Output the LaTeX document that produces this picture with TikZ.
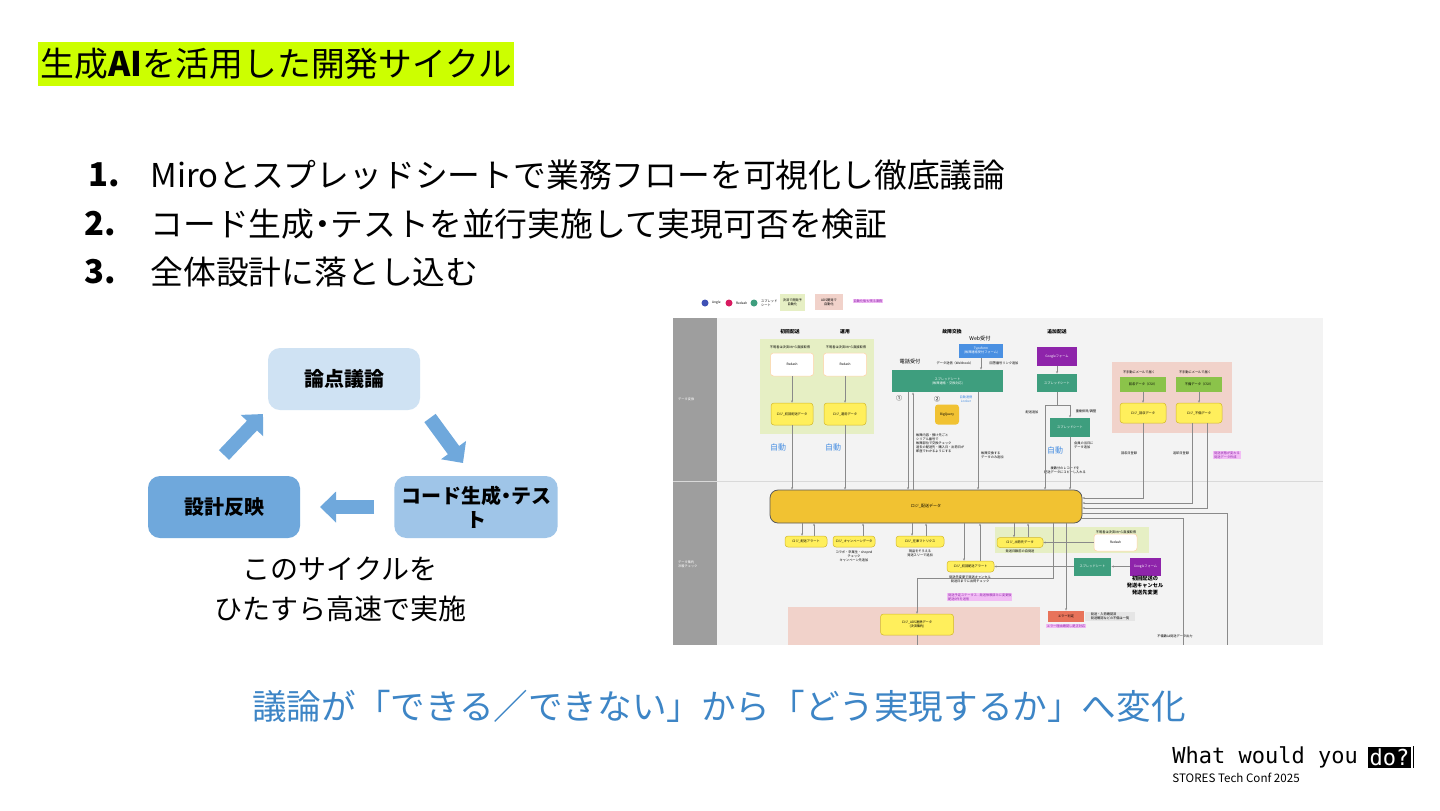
\documentclass[tikz,border=0pt]{standalone}
\usepackage{fontspec}
\setmainfont{Noto Sans CJK JP}
\newfontfamily\monofont{DejaVu Sans Mono}
\usetikzlibrary{arrows.meta,
                positioning}

\definecolor{titlelime}{HTML}{CCFF00}
\definecolor{cyclelight}{HTML}{CFE2F3}
\definecolor{cyclemid}{HTML}{9FC5E8}
\definecolor{cycledark}{HTML}{6FA8DC}
\definecolor{textblue}{HTML}{3D85C6}
\definecolor{boardgray}{HTML}{F3F3F3}
\definecolor{lanegray}{HTML}{9E9E9E}
\definecolor{limezone}{HTML}{E6EFC4}
\definecolor{pinkzone}{HTML}{F1D2CA}
\definecolor{logiyellow}{HTML}{FFEF5C}
\definecolor{logiedge}{HTML}{D2B72A}
\definecolor{mainorange}{HTML}{F1C232}
\definecolor{sheetgreen}{HTML}{3E9E7E}
\definecolor{formpurple}{HTML}{8E24AA}
\definecolor{typeblue}{HTML}{4A90E2}
\definecolor{csvgreen}{HTML}{8BC34A}
\definecolor{errorred}{HTML}{E8735A}
\definecolor{notepink}{HTML}{F2BDF5}
\definecolor{linkgray}{HTML}{8A8A8A}
\definecolor{dotblue}{HTML}{3F51B5}
\definecolor{dotred}{HTML}{D81B60}

\newcommand\minifont{\fontsize{1.6}{2}\selectfont}
\newcommand\headfont{\fontsize{2.4}{2.8}\selectfont\bfseries}
\newcommand\middot{\kern-.25em・\kern-.25em}

\begin{document}
\begin{tikzpicture}%
            [x = 0.5pt, y = -0.5pt,
             cycbox/.style = {rounded corners = 6pt, minimum width = 76pt, minimum height = 31pt,
                              align = center, font = \fontsize{10}{12}\selectfont\bfseries},
             cycarrow/.style = {line width = 7pt, cycledark, -{Triangle[length = 8pt, width = 15pt]}},
             listnum/.style = {anchor = west, inner sep = 0pt, font = \fontsize{16.4}{18}\selectfont\bfseries},
             listtext/.style = {anchor = west, inner sep = 0pt, font = \fontsize{16.4}{18}\selectfont},
             mini/.style = {inner sep = 0.4pt, align = center, font = \minifont},
             logi/.style = {mini, draw = logiedge, fill = logiyellow, line width = 0.25pt, rounded corners = 1.5pt},
             redash/.style = {mini, draw = orange!35, fill = white, line width = 0.25pt, rounded corners = 1.5pt},
             sheet/.style = {mini, fill = sheetgreen, text = white},
             form/.style = {mini, fill = formpurple, text = white},
             csv/.style = {mini, fill = csvgreen},
             note/.style = {mini, fill = notepink, text = formpurple},
             auto/.style = {inner sep = 0pt, text = typeblue, font = \fontsize{4}{4}\selectfont},
             link/.style = {draw = linkgray, line width = 0.25pt},
             linkarr/.style = {link, -{Stealth[length = 1.2pt, width = 1pt]}}]

            \useasboundingbox (0,0) rectangle (1440,810);
            \fill[white] (0,0) rectangle (1440,810);

            % title
            \fill[titlelime] (38,42) rectangle (514,86);
            \node [anchor = west, inner sep = 0pt, font = \fontsize{16.9}{20}\selectfont] (title) at (40,64)
                  {生成\textbf{AI}を活用した開発サイクル};

            % list
            \node [listnum] (n1) at (88,175) {1.};
            \node [listtext] (t1) at (150,175) {Miroとスプレッドシートで業務フローを可視化し徹底議論};
            \node [listnum] (n2) at (84,224) {2.};
            \node [listtext] (t2) at (150,224) {コード生成\middot テストを並行実施して実現可否を検証};
            \node [listnum] (n3) at (84,272) {3.};
            \node [listtext] (t3) at (150,272) {全体設計に落とし込む};

            % cycle
            \node [cycbox, fill = cyclelight] (issue) at (344,379) {論点議論};
            \node [cycbox, fill = cyclemid] (codegen) at (476,507) {コード生成\middot テス\\ト};
            \node [cycbox, fill = cycledark] (design) at (224,507) {設計反映};

            \coordinate (upA) at (224,455);
            \coordinate (upB) at (263,414);
            \coordinate (dnA) at (430,418);
            \coordinate (dnB) at (463,463);
            \coordinate (lfA) at (374,507);
            \coordinate (lfB) at (320,507);
            \draw [cycarrow] (upA) -- (upB);
            \draw [cycarrow] (dnA) -- (dnB);
            \draw [cycarrow] (lfA) -- (lfB);

            \node [align = center, font = \fontsize{14}{20}\selectfont] (cycnote) at (340,589)
                  {このサイクルを\\ひたすら高速で実施};

            % miro board
            \fill[boardgray] (673,318) rectangle (1323,645);
            \fill[lanegray] (673,318) rectangle (717,645);
            \draw[white!85!black, line width = 0.4pt] (673,481) -- (1323,481);
            \node [mini, text = white, anchor = west] (laneA) at (677,399) {データ変換};
            \node [mini, text = white, anchor = west, align = left] (laneB) at (677,564) {データ集約\\冷暖チェック};

            % legend
            \fill[dotblue] (705,303) circle (3.5);
            \node [mini, anchor = west] (lgdA) at (711,303) {Angle};
            \fill[dotred] (729,303) circle (3.5);
            \node [mini, anchor = west] (lgdB) at (735,303) {Redash};
            \fill[sheetgreen] (754,303) circle (3.5);
            \node [mini, anchor = west, align = left] (lgdC) at (760,303) {スプレッド\\シート};
            \node [mini, fill = limezone, minimum width = 12.5pt, minimum height = 8.5pt] (lgdD) at (792.5,302.5) {決済で開発予\\自動化};
            \node [mini, fill = pinkzone, minimum width = 14pt, minimum height = 8pt] (lgdE) at (829,302) {ADS開発で\\自動化};
            \node [note] (lgdF) at (868,301) {自動化後も残る業務};

            % zones
            \fill[limezone] (760,339) rectangle (874,434);
            \fill[pinkzone] (1112,362) rectangle (1232,433);
            \fill[limezone] (995,527) rectangle (1149,553);
            \fill[pinkzone] (788,607) rectangle (1040,645);

            \node [mini, font = \headfont] (hA) at (790,332) {初回配送};
            \node [mini, font = \headfont] (hB) at (845,332) {運用};
            \node [mini, font = \headfont] (hC) at (952,332) {故障交換};
            \node [mini, font = \headfont] (hD) at (1057,332) {追加配送};

            % upper lane
            \node [mini] (capA) at (790,347) {不明者は決済0から直接取得};
            \node [mini] (capB) at (846,347) {不明者は決済0から直接取得};
            \node [redash, minimum width = 21.5pt, minimum height = 11.5pt] (rdA) at (792,364.5) {Redash};
            \node [redash, minimum width = 21.5pt, minimum height = 11.5pt] (rdB) at (845,364.5) {Redash};
            \node [logi, minimum width = 21pt, minimum height = 11pt] (lgA) at (792,414) {ロジ\_初回配送データ};
            \node [logi, minimum width = 21pt, minimum height = 11pt] (lgB) at (845,414) {ロジ\_運用データ};
            \node [auto] (autoA) at (778,447) {自動};
            \node [auto] (autoB) at (833,447) {自動};

            \node [mini, font = \fontsize{2.6}{3}\selectfont] (webin) at (980,339) {Web受付};
            \node [mini, fill = typeblue, text = white, minimum width = 22pt, minimum height = 7pt] (tf) at (981,351)
                  {Typeform\\(故障連絡受付フォーム)};
            \node [mini, font = \fontsize{2.6}{3}\selectfont] (telin) at (910,362) {電話受付};
            \node [mini] (wh) at (955,363) {データ送信（Webhook）};
            \node [mini] (ln) at (1004,363) {回答番号リンク追加};
            \node [sheet, minimum width = 55.5pt, minimum height = 11pt] (ssA) at (947.5,381)
                  {スプレッドシート\\(故障連絡・交換対応)};
            \node [mini, font = \fontsize{3}{3}\selectfont] (c1) at (899,398) {①};
            \node [mini, font = \fontsize{3}{3}\selectfont] (c2) at (937,399) {②};
            \node [mini, text = typeblue] (bqnote) at (966,399) {自動連携\\Looker};
            \node [mini, fill = mainorange, rounded corners = 1.5pt, minimum width = 12pt, minimum height = 10pt] (bq) at (947,414.5) {BigQuery};
            \node [mini, align = left, anchor = north west] (bqtext) at (915,433)
                  {故障内容・預け先ごと\\シリアル番号で\\故障部位で交換チェック\\過去の配送先・購入日・出荷日が\\即座でわかるようにする};
            \node [mini, align = left, anchor = west] (swap) at (980,455) {故障交換する\\データのみ追加};

            \node [form, minimum width = 20pt, minimum height = 9.5pt] (gfA) at (1057,356.5) {Googleフォーム};
            \node [sheet, minimum width = 20pt, minimum height = 9pt] (ssB) at (1057,383) {スプレッドシート};
            \node [sheet, minimum width = 20pt, minimum height = 9.5pt] (ssC) at (1070,427.5) {スプレッドシート};
            \node [mini] (addA) at (1032,412) {配送追加};
            \node [mini] (addB) at (1086,411) {重複排除/調整};
            \node [auto] (autoC) at (1055,450) {自動};
            \node [mini, align = left, anchor = west] (addC) at (1073,445) {会員の当日に\\データ追加};
            \node [mini] (addD) at (1065,470) {複数分のレコードを\\配送データにコピーし入れる};

            \node [mini] (mailA) at (1139,372) {不手動にメールで届く};
            \node [mini] (mailB) at (1195,372) {不手動にメールで届く};
            \node [csv, minimum width = 23pt, minimum height = 7.5pt] (csvA) at (1143,384.5) {回収データ（CSV）};
            \node [csv, minimum width = 23pt, minimum height = 7.5pt] (csvB) at (1199,384.5) {不備データ（CSV）};
            \node [logi, minimum width = 23pt, minimum height = 10pt] (lgC) at (1143,413) {ロジ\_回収データ};
            \node [logi, minimum width = 23pt, minimum height = 10pt] (lgD) at (1199,413) {ロジ\_不備データ};
            \node [mini] (retA) at (1129,453) {回収日登録};
            \node [mini] (retB) at (1181,453) {返却日登録};
            \node [note, align = left] (retC) at (1227,455) {発送状態が変わる\\発送データ作成};

            % main store
            \node [mini, draw = black!65, line width = 0.4pt, fill = mainorange, rounded corners = 4pt,
                   minimum width = 156pt, minimum height = 16.5pt, font = \fontsize{2}{2.4}\selectfont] (main) at (926,506.5) {ロジ\_配送データ};

            % lower lane
            \node [logi, minimum width = 21pt, minimum height = 5.5pt] (lgE) at (806,541.5) {ロジ\_配送アラート};
            \node [logi, minimum width = 21pt, minimum height = 5.5pt] (lgF) at (854,541.5) {ロジ\_キャンペーンデータ};
            \node [logi, minimum width = 24pt, minimum height = 5.5pt] (lgG) at (920,541.5) {ロジ\_在庫マトリクス};
            \node [logi, minimum width = 23.5pt, minimum height = 5.5pt] (lgH) at (970.5,566.5) {ロジ\_初回配送アラート};
            \node [logi, minimum width = 23pt, minimum height = 5pt] (lgI) at (1020,542.5) {ロジ\_出荷先データ};
            \node [mini] (capC) at (1116,532) {不明者は決済0から直接取得};
            \node [redash, minimum width = 21.5pt, minimum height = 8.5pt] (rdC) at (1115.5,542.5) {Redash};
            \node [sheet, minimum width = 18.5pt, minimum height = 9pt] (ssD) at (1092.5,566.5) {スプレッドシート};
            \node [form, minimum width = 15.5pt, minimum height = 9pt] (gfB) at (1145.5,566.5) {Googleフォーム};
            \node [mini, font = \fontsize{2.6}{3.5}\selectfont\bfseries] (cancel) at (1145,586) {初回配送の\\発送キャンセル\\発送先変更};
            \node [mini] (noteF) at (854,556) {コラボ・卒業生・shopnd\\チェック\\キャンペーン先追加};
            \node [mini] (noteG) at (920,553) {現品をそろえる\\発送スリーで追加};
            \node [mini] (noteH) at (970,579) {発送先変更で発送キャンセル\\発送日までに出荷チェック};
            \node [mini] (noteI) at (1020,551) {発送日数前の自発送};
            \node [note, align = left, anchor = west] (noteJ) at (947,597) {発送予定ステータス...発送依頼済みに変更後\\配送0件を送信};
            \node [logi, minimum width = 36.5pt, minimum height = 10.5pt] (lgJ) at (917,624.5) {ロジ\_ADS連携データ\\(決済集約)};
            \node [mini, fill = errorred, minimum width = 18pt, minimum height = 5.5pt] (err) at (1066,616.5) {エラー判定};
            \node [mini, fill = black!10, minimum width = 25pt, minimum height = 4.5pt, align = left] (errinfo) at (1110,616.5)
                  {発送・入荷確認済\\発送確認などの不備は一覧};
            \node [note] (errfix) at (1066,626) {エラー理由確認し是正対応};
            \node [mini] (tail) at (1175,636) {不備数は発送データ出力};

            % connectors
            \draw [linkarr] (rdA) -- (lgA);
            \draw [linkarr] (lgA) -- (lgA |- main.north);
            \draw [linkarr] (rdB) -- (lgB);
            \draw [linkarr] (lgB) -- (lgB |- main.north);
            \draw [linkarr] (tf) -- (tf |- ssA.north);
            \draw [linkarr] ([xshift = -19.75pt]ssA.south) -- ([xshift = -19.75pt]ssA.south |- main.north);
            \draw [linkarr] ([xshift = -17.25pt]ssA.south |- main.north) -- ([xshift = -17.25pt]ssA.south);
            \draw [linkarr] ([xshift = 15.25pt]ssA.south) -- ([xshift = 15.25pt]ssA.south |- main.north);

            \coordinate (jL) at (1045,405);
            \coordinate (jR) at (1070,405);
            \draw [linkarr] (gfA) -- (ssB);
            \draw [link] (ssB.south) -- (ssB.south |- jL);
            \draw [link] (jL) -- (jR);
            \draw [linkarr] (jL) -- (jL |- main.north);
            \draw [linkarr] (jR) -- (ssC.north);
            \draw [linkarr] (ssC.south) -- (ssC.south |- main.north);

            \draw [linkarr] (csvA) -- (lgC);
            \draw [linkarr] (csvB) -- (lgD);
            \draw [linkarr] (lgC.south) |- ([yshift = 4.25pt]main.east);
            \draw [linkarr] ([xshift = -3.5pt]lgD.south) |- ([yshift = 1.75pt]main.east);
            \draw [linkarr] ([xshift = 4pt]lgD.south) |- ([yshift = -0.75pt]main.east);

            \coordinate (outA) at (1183,645);
            \coordinate (outB) at (1227,645);
            \draw [link] ([yshift = -3.25pt]main.east) -| (outB);
            \draw [link] ([yshift = -5.75pt]main.east) -| (outA);

            \draw [linkarr] ([xshift = -2pt]lgE.north |- main.south) -- ([xshift = -2pt]lgE.north);
            \draw [linkarr] ([xshift = 4pt]lgE.north) -- ([xshift = 4pt]lgE.north |- main.south);
            \draw [linkarr] ([xshift = 4.5pt]lgF.north) -- ([xshift = 4.5pt]lgF.north |- main.south);
            \draw [linkarr] ([xshift = -4pt]lgG.north |- main.south) -- ([xshift = -4pt]lgG.north);
            \draw [linkarr] ([xshift = 3pt]lgG.north) -- ([xshift = 3pt]lgG.north |- main.south);
            \draw [linkarr] ([xshift = -3.25pt]lgH.north |- main.south) -- ([xshift = -3.25pt]lgH.north);
            \draw [linkarr] ([xshift = 4.75pt]lgH.north) -- ([xshift = 4.75pt]lgH.north |- main.south);
            \draw [linkarr] ([xshift = -3pt]lgI.north |- main.south) -- ([xshift = -3pt]lgI.north);
            \draw [linkarr] ([xshift = 4pt]lgI.north) -- ([xshift = 4pt]lgI.north |- main.south);

            \coordinate (bendA) at (1053,578);
            \draw [linkarr] (main.south -| bendA) -- (bendA) -| (lgJ.north);
            \draw [linkarr] (main.south -| err) -- (err.north);
            \draw [linkarr] (rdC) -- (lgI);
            \draw [linkarr] (gfB) -- (ssD);
            \draw [linkarr] (ssD) -- (lgH);
            \draw [link] (lgJ.south) -- (lgJ.south |- outA);

            % message
            \node [text = textblue, font = \fontsize{17.3}{20}\selectfont] (message) at (719,706)
                  {議論が「できる／できない」から「どう実現するか」へ変化};

            % footer
            \node [anchor = west, inner sep = 0pt, font = \monofont\fontsize{11}{13}\selectfont] (wwy) at (1172,757) {What would you};
            \node [right = 4.5pt of wwy, fill = black, text = white, inner sep = 1pt,
                   font = \monofont\fontsize{11}{13}\selectfont] (doq) {do?};
            \draw [line width = 0.6pt] ([xshift = 1pt]doq.north east) -- ([xshift = 1pt]doq.south east);
            \node [anchor = west, inner sep = 0pt, font = \fontsize{5.8}{7}\selectfont] (conf) at (1172,778) {STORES Tech Conf 2025};
\end{tikzpicture}
\end{document}
